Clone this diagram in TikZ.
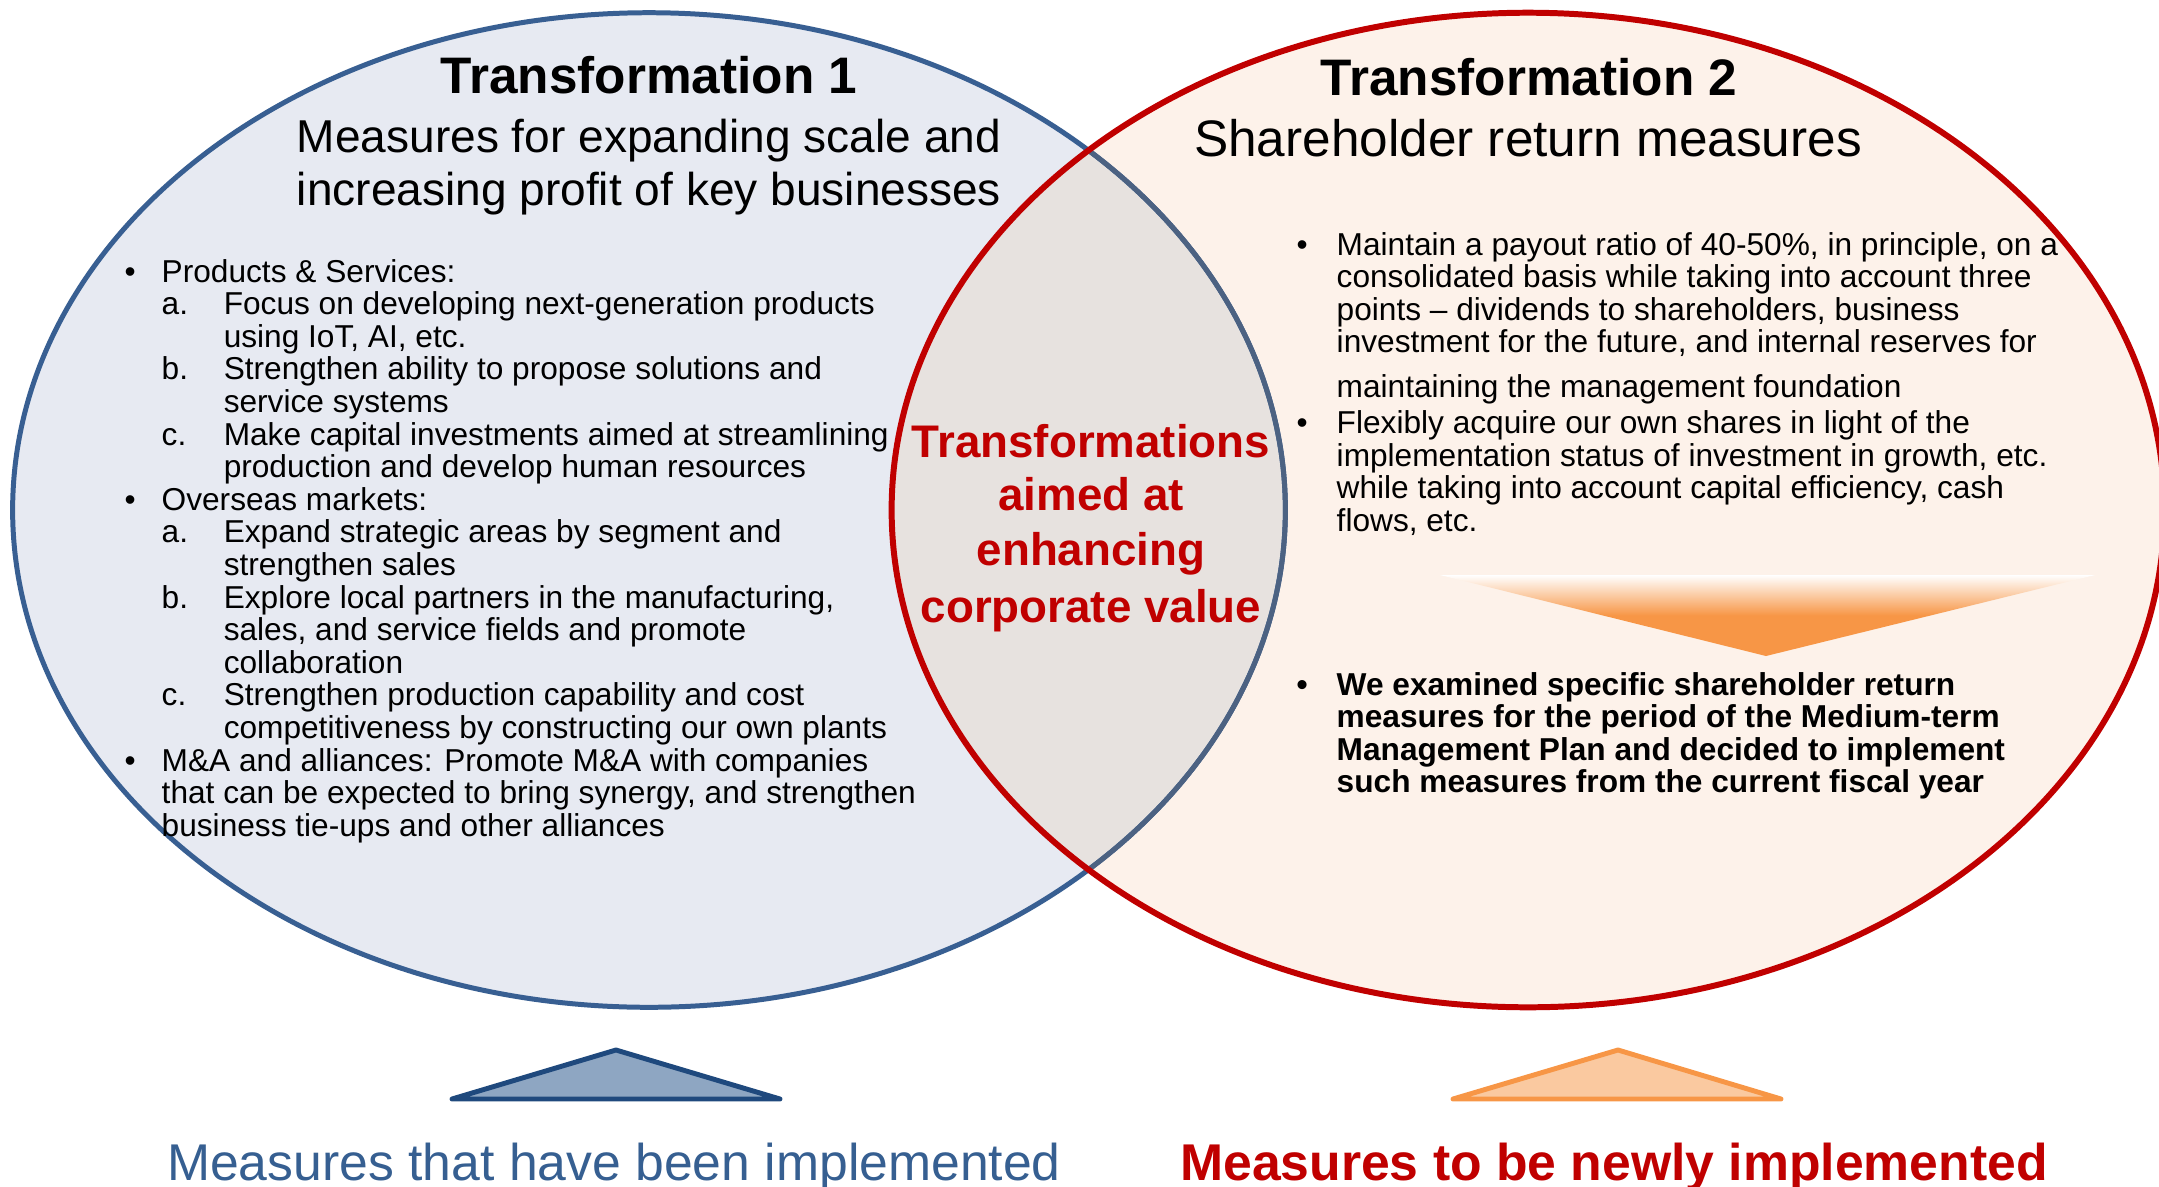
\documentclass[tikz,border=0pt]{standalone}
\usepackage{fontspec}
\setmainfont{Liberation Sans}

\definecolor{leftfill}{RGB}{231,234,242}
\definecolor{rightfill}{RGB}{253,242,234}
\definecolor{lensfill}{RGB}{231,226,223}
\definecolor{leftline}{RGB}{56,95,146}
\definecolor{lensline}{RGB}{76,98,130}
\definecolor{darkred}{RGB}{192,0,0}
\definecolor{tribluefill}{RGB}{142,166,194}
\definecolor{triblueline}{RGB}{31,73,125}
\definecolor{labelblue}{RGB}{54,95,145}
\definecolor{arrorange}{RGB}{247,150,70}
\definecolor{trilightorange}{RGB}{250,201,160}

\begin{document}
\begin{tikzpicture}[x=0.01cm,y=-0.01cm,
    txt/.style={inner sep=0pt,anchor=base},
    title/.style={txt,font=\fontsize{14.6}{17}\selectfont\bfseries},
    subtitle/.style={txt,font=\fontsize{13.1}{15}\selectfont},
    body/.style={inner sep=0pt,anchor=base west,font=\fontsize{9}{9.17}\selectfont},
    midtext/.style={txt,text=darkred,font=\fontsize{13}{15.6}\selectfont\bfseries},
    tri/.style={line width=1.4pt,line join=round,line cap=round}]
  \useasboundingbox (0,0) rectangle (2159,1187);
  \clip (0,0) rectangle (2159,1187);
  %
  \coordinate (c1) at (649,510);
  \coordinate (c2) at (1528,510);
  \def\rx{6.36cm}\def\ry{4.97cm}
  %
  \fill[leftfill] (c1) ellipse [x radius=\rx, y radius=\ry];
  \fill[rightfill] (c2) ellipse [x radius=\rx, y radius=\ry];
  \begin{scope}
    \clip (c1) ellipse [x radius=\rx, y radius=\ry];
    \fill[lensfill] (c2) ellipse [x radius=\rx, y radius=\ry];
  \end{scope}
  \draw[leftline,line width=1.42pt] (c1) ellipse [x radius=\rx, y radius=\ry];
  \begin{scope}
    \clip (c2) ellipse [x radius=\rx, y radius=\ry];
    \draw[lensline,line width=1.42pt] (c1) ellipse [x radius=\rx, y radius=\ry];
  \end{scope}
  \draw[darkred,line width=1.7pt] (c2) ellipse [x radius=\rx, y radius=\ry];
  %
  \node[title] (t1) at (649,93) {Transformation 1};
  \node[subtitle] (s1a) at (649,152) {Measures for expanding scale and};
  \node[subtitle] (s1b) at (649,205) {increasing profit of key businesses};
  \node[title] (t2) at (1529,95) {Transformation 2};
  \node[title,font=\fontsize{14.6}{17}\selectfont] (s2) at (1528,156) {Shareholder return measures};
  %
  \node[body] (list1) at (124,282) {%
    \begin{tabular}[t]{@{}p{0.37cm}@{}p{0.62cm}@{}l@{}}
      \textbullet & \multicolumn{2}{@{}l@{}}{Products \& Services:}\\
       & a. & Focus on developing next-generation products\\
       &    & using IoT, AI, etc.\\
       & b. & Strengthen ability to propose solutions and\\
       &    & service systems\\
       & c. & Make capital investments aimed at streamlining\\
       &    & production and develop human resources\\
      \textbullet & \multicolumn{2}{@{}l@{}}{Overseas markets:}\\
       & a. & Expand strategic areas by segment and\\
       &    & strengthen sales\\
       & b. & Explore local partners in the manufacturing,\\
       &    & sales, and service fields and promote\\
       &    & collaboration\\
       & c. & Strengthen production capability and cost\\
       &    & competitiveness by constructing our own plants\\
      \textbullet & \multicolumn{2}{@{}l@{}}{M\&A and alliances: Promote M\&A with companies}\\
       & \multicolumn{2}{@{}l@{}}{that can be expected to bring synergy, and strengthen}\\
       & \multicolumn{2}{@{}l@{}}{business tie-ups and other alliances}
    \end{tabular}};
  %
  \node[body] (list2) at (1296,255) {%
    \begin{tabular}[t]{@{}p{0.40cm}@{}l@{}}
      \textbullet & Maintain a payout ratio of 40-50\%, in principle, on a\\
       & consolidated basis while taking into account three\\
       & points – dividends to shareholders, business\\
       & investment for the future, and internal reserves for\\[0.12cm]
       & maintaining the management foundation\\[0.036cm]
      \textbullet & Flexibly acquire our own shares in light of the\\
       & implementation status of investment in growth, etc.\\
       & while taking into account capital efficiency, cash\\
       & flows, etc.
    \end{tabular}};
  %
  \shade[top color=white,bottom color=arrorange,middle color=arrorange]
    (1440,575) -- (2095,575) -- (1766,656) -- cycle;
  %
  \node[body,font=\fontsize{9}{9.17}\selectfont\bfseries] (list3) at (1296,695) {%
    \begin{tabular}[t]{@{}p{0.40cm}@{}l@{}}
      \textbullet & We examined specific shareholder return\\
       & measures for the period of the Medium-term\\
       & Management Plan and decided to implement\\
       & such measures from the current fiscal year
    \end{tabular}};
  %
  \foreach \y/\w in {457/Transformations,510/aimed at,565/enhancing,622/corporate value}{
    \node[midtext] (mid\y) at (1091,\y) {\w};
  }
  %
  \draw[tri,triblueline,fill=tribluefill] (452,1099) -- (616,1050) -- (780,1099) -- cycle;
  \draw[tri,arrorange,fill=trilightorange] (1453,1099) -- (1618,1050) -- (1781,1099) -- cycle;
  \node[txt,text=labelblue,font=\fontsize{14.7}{17}\selectfont] (done) at (614,1180) {Measures that have been implemented};
  \node[txt,text=darkred,font=\fontsize{14.7}{17}\selectfont\bfseries] (new) at (1614,1180) {Measures to be newly implemented};
\end{tikzpicture}
\end{document}
